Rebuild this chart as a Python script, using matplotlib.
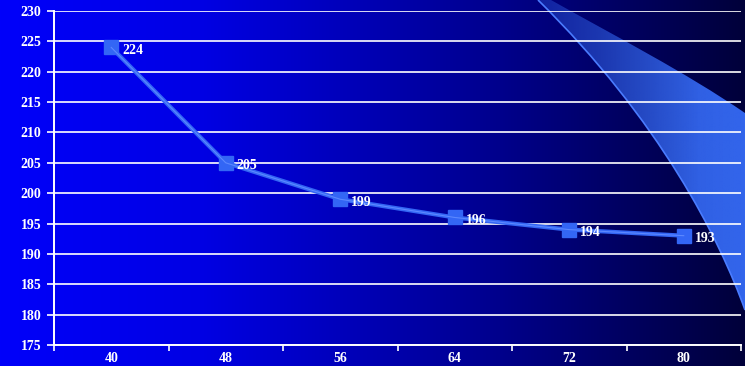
import numpy as np
import matplotlib
matplotlib.use("Agg")
import matplotlib.pyplot as plt
from matplotlib.path import Path
from matplotlib.patches import PathPatch

# data
categories = ["40", "48", "56", "64", "72", "80"]
values = [224, 205, 199, 196, 194, 193]
y_ticks = list(range(175, 231, 5))

W, H = 745, 366
fig = plt.figure(figsize=(W / 100, H / 100), dpi=100)

# background: horizontal blue -> navy gradient over the whole figure
bg = fig.add_axes([0, 0, 1, 1], zorder=-10)
bg.set_xlim(0, W)
bg.set_ylim(H, 0)
bg.axis("off")
xs = np.linspace(0, W, 400)
stops_x = [0, 200, 350, 500, 600, 745]
stops_b = [250, 228, 185, 140, 105, 58]
blue = np.interp(xs, stops_x, stops_b) / 255.0
grad = np.zeros((2, len(xs), 3))
grad[:, :, 2] = blue
bg.imshow(grad, extent=[0, W, H, 0], aspect="auto", interpolation="bilinear")

# decorative swoosh in the upper right corner
verts = [(538, 0), (551, 0),
         (615, 36), (685, 72), (745, 113),
         (745, 310),
         (720, 240), (660, 120), (538, 0)]
codes = [Path.MOVETO, Path.LINETO,
         Path.CURVE4, Path.CURVE4, Path.CURVE4,
         Path.LINETO,
         Path.CURVE4, Path.CURVE4, Path.CURVE4]
swoosh = PathPatch(Path(verts, codes), facecolor="none", edgecolor="none")
bg.add_patch(swoosh)
sw = np.zeros((2, 200, 4))
sx = np.linspace(530, 745, 200)
sw[:, :, 0] = 0.20
sw[:, :, 1] = 0.40
sw[:, :, 2] = 0.93
sw[:, :, 3] = np.interp(sx, [530, 600, 700, 745], [0.3, 0.55, 0.95, 1.0])
img = bg.imshow(sw, extent=[530, 745, H, 0], aspect="auto", interpolation="bilinear")
img.set_clip_path(swoosh)
edge_verts = [(538, 0), (660, 120), (720, 240), (745, 310)]
edge = PathPatch(Path(edge_verts, [Path.MOVETO, Path.CURVE4, Path.CURVE4, Path.CURVE4]),
                 facecolor="none", edgecolor="#4a7cff", lw=1.2)
bg.add_patch(edge)

# main chart
ax = fig.add_axes([54 / W, 1 - 345 / H, (741 - 54) / W, (345 - 11) / H])
ax.patch.set_visible(False)
x = np.arange(len(categories))
ax.set_xlim(-0.5, len(categories) - 0.5)
ax.set_ylim(175, 230)

font = dict(family="Liberation Serif", weight="bold", color="white")

ax.set_yticks(y_ticks)
ax.set_yticklabels([str(t) for t in y_ticks], fontsize=10, **font)
ax.yaxis.grid(True, color="white", lw=1.2)
ax.set_axisbelow(True)

ax.set_xticks(x)
ax.set_xticklabels(categories, fontsize=10, **font)
ax.set_xticks(np.arange(-0.5, len(categories)), minor=True)
ax.tick_params(axis="x", which="major", length=0, pad=5)
ax.tick_params(axis="x", which="minor", length=4, width=1.2, color="white")
ax.tick_params(axis="y", length=5, width=1.2, color="white", pad=4)

for s in ["top", "right"]:
    ax.spines[s].set_visible(False)
for s in ["left", "bottom"]:
    ax.spines[s].set_color("white")
    ax.spines[s].set_linewidth(1.4)

ax.plot(x, values, color="#3366f5", lw=3, marker="s", markersize=9.5,
        markerfacecolor="#3366f5", markeredgecolor="#3366f5", zorder=3)
ax.plot(x, values, color="#5c88ff", lw=0.8, zorder=3)
for xi, v in zip(x, values):
    ax.annotate(str(v), (xi, v), xytext=(8, -2), textcoords="offset points",
                ha="left", va="center", fontsize=10, zorder=4, **font)

fig.savefig("out.png", dpi=100)
